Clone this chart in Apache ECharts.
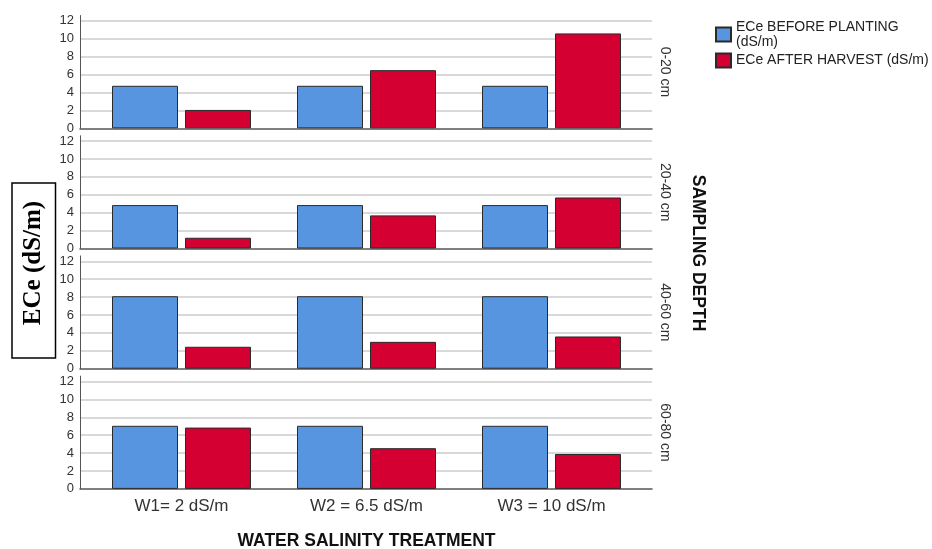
<!DOCTYPE html>
<html><head><meta charset="utf-8">
<script src="https://cdn.jsdelivr.net/npm/echarts@6/dist/echarts.min.js"></script>
<style>html,body{margin:0;padding:0;background:#fff}#c{width:932px;height:549px}</style>
</head><body><div id="c"></div>
<script>
// ---- data ----
const treatments = ['W1= 2 dS/m', 'W2 = 6.5 dS/m', 'W3 = 10 dS/m'];
const depths = ['0-20 cm', '20-40 cm', '40-60 cm', '60-80 cm'];
const yTicks = [0, 2, 4, 6, 8, 10, 12];
const seriesNames = ['ECe BEFORE PLANTING\n(dS/m)', 'ECe AFTER HARVEST (dS/m)'];
const before_0_20 = [4.75, 4.75, 4.75];
const after_0_20 = [2.05, 6.5, 10.6];
const before_20_40 = [4.85, 4.85, 4.85];
const after_20_40 = [1.2, 3.7, 5.7];
const before_40_60 = [8.1, 8.1, 8.1];
const after_40_60 = [2.45, 3.0, 3.6];
const before_60_80 = [7.05, 7.05, 7.05];
const after_60_80 = [6.85, 4.55, 3.9];
const beforeByDepth = [before_0_20, before_20_40, before_40_60, before_60_80];
const afterByDepth = [after_0_20, after_20_40, after_40_60, after_60_80];

// ---- layout ----
const FONT = '"Liberation Sans", Arial, sans-serif';
const zero0 = 128.3, step = 120.2, ppu = 8.95, yMax = 12.6;
const blue = '#5895E1', red = '#D50032', border = '#2a2a2a';

const grids = [], xAxes = [], yAxes = [], series = [];
for (let i = 0; i < 4; i++) {
  const top = zero0 + step * i - yMax * ppu;
  grids.push({ left: 80, width: 572, top: top, height: yMax * ppu, outerBoundsMode: 'none', containLabel: false });
}
for (let i = 0; i < 4; i++) {
  const top = zero0 + step * i - yMax * ppu;
  grids.push({ left: 89, width: 555, top: top, height: yMax * ppu, outerBoundsMode: 'none', containLabel: false });
}
for (let i = 0; i < 4; i++) {
  xAxes.push({ gridIndex: i, type: 'value', min: 0, max: 1,
    axisLine: { show: true, onZero: false, lineStyle: { color: '#555', width: 1.5 } },
    axisTick: { show: false }, axisLabel: { show: false }, splitLine: { show: false } });
  yAxes.push({ gridIndex: i, type: 'value', min: 0, max: yMax, interval: 2,
    axisLine: { show: true, lineStyle: { color: '#555', width: 1 } },
    axisTick: { show: false },
    axisLabel: { fontSize: 13, color: '#333', margin: 6, fontFamily: FONT, showMaxLabel: false,
      formatter: v => (yTicks.indexOf(v) >= 0 ? String(v) : '') },
    splitLine: { show: true, showMinLine: false, showMaxLine: false, lineStyle: { color: '#cccccc', width: 1.5 } } });
}
for (let i = 0; i < 4; i++) {
  xAxes.push({ gridIndex: 4 + i, type: 'category', data: treatments,
    axisLine: { show: false }, axisTick: { show: false },
    axisLabel: { show: i === 3, fontSize: 17, color: '#333', margin: 9, interval: 0, fontFamily: FONT },
    name: i === 3 ? 'WATER SALINITY TREATMENT' : '', nameLocation: 'middle', nameGap: 43,
    nameTextStyle: { fontSize: 17.5, fontWeight: 'bold', color: '#111', fontFamily: FONT } });
  yAxes.push({ gridIndex: 4 + i, type: 'value', min: 0, max: yMax, position: 'right',
    axisLine: { show: false }, axisTick: { show: false }, axisLabel: { show: false }, splitLine: { show: false },
    name: depths[i], nameLocation: 'middle', nameRotate: -90, nameGap: 14,
    nameTextStyle: { fontSize: 14, color: '#333', fontFamily: FONT } });
  series.push({ type: 'bar', name: seriesNames[0], xAxisIndex: 4 + i, yAxisIndex: 4 + i,
    data: beforeByDepth[i], barWidth: 66, barGap: '10.6%',
    itemStyle: { color: blue, borderColor: border, borderWidth: 1 } });
  series.push({ type: 'bar', name: seriesNames[1], xAxisIndex: 4 + i, yAxisIndex: 4 + i,
    data: afterByDepth[i], barWidth: 66, barGap: '10.6%',
    itemStyle: { color: red, borderColor: border, borderWidth: 1 } });
}

const chart = echarts.init(document.getElementById('c'), null, { renderer: 'canvas' });
chart.setOption({
  animation: false,
  backgroundColor: '#fff',
  textStyle: { fontFamily: FONT },
  legend: {
    orient: 'vertical', left: 715, top: 19.5, padding: 0, itemGap: 3,
    itemWidth: 15, itemHeight: 14, icon: 'rect',
    data: seriesNames,
    textStyle: { fontSize: 14, color: '#222', lineHeight: 15, fontFamily: FONT }
  },
  grid: grids, xAxis: xAxes, yAxis: yAxes, series: series,
  graphic: [
    { type: 'rect', shape: { x: 12, y: 183, width: 43.5, height: 175 },
      style: { fill: '#fff', stroke: '#000', lineWidth: 1.5 } },
    { type: 'text', x: 33.5, y: 263, rotation: Math.PI / 2,
      style: { text: 'ECe (dS/m)', font: 'bold 25px "Liberation Serif", "Times New Roman", serif',
        fill: '#000', textAlign: 'center', textVerticalAlign: 'middle' } },
    { type: 'text', x: 698, y: 253, rotation: -Math.PI / 2,
      style: { text: 'SAMPLING DEPTH', font: 'bold 17.5px ' + FONT,
        fill: '#111', textAlign: 'center', textVerticalAlign: 'middle' } }
  ]
});
</script></body></html>
